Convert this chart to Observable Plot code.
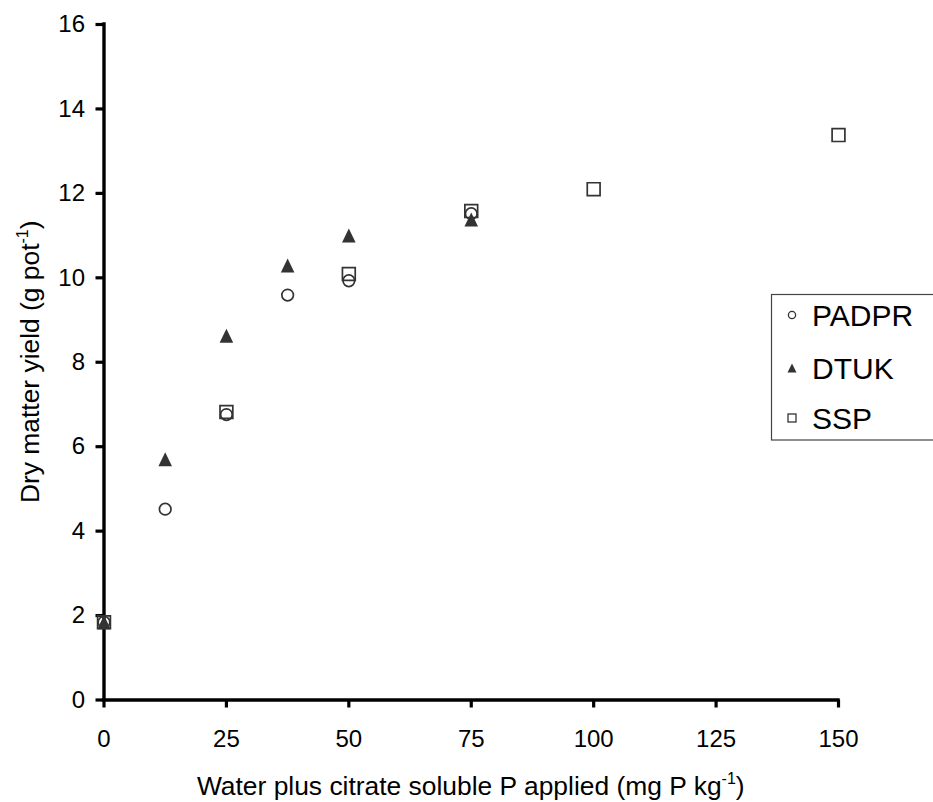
<!DOCTYPE html>
<html>
<head>
<meta charset="utf-8">
<script src="https://cdn.jsdelivr.net/npm/d3@7"></script>
<script src="https://cdn.jsdelivr.net/npm/@observablehq/plot@0.6"></script>
<style>
  html, body { margin: 0; padding: 0; background: #fff; }
  #chart svg { display: block; font-family: "Liberation Sans", Arial, sans-serif; }
</style>
</head>
<body>
<div id="chart"></div>
<script>
// ---- data ----
const seriesNames = ["PADPR", "DTUK", "SSP"];
const padprX = [0, 12.5, 25, 37.5, 50, 75];
const padprY = [1.84, 4.52, 6.76, 9.59, 9.93, 11.52];
const dtukX = [0, 12.5, 25, 37.5, 50, 75];
const dtukY = [1.84, 5.70, 8.63, 10.29, 11.00, 11.38];
const sspX = [0, 25, 50, 75, 100, 150];
const sspY = [1.84, 6.82, 10.09, 11.58, 12.10, 13.38];
const xTicks = [0, 25, 50, 75, 100, 125, 150];
const yTicks = [0, 2, 4, 6, 8, 10, 12, 14, 16];

const toRows = (xs, ys, s) => xs.map((x, i) => ({x, y: ys[i], s}));
const padpr = toRows(padprX, padprY, seriesNames[0]);
const dtuk = toRows(dtukX, dtukY, seriesNames[1]);
const ssp = toRows(sspX, sspY, seriesNames[2]);

// custom symbols (bbox-centred like spreadsheet markers)
const sqSymbol = {draw(ctx, size) { const r = Math.sqrt(size / Math.PI); ctx.rect(-r, -r, 2 * r, 2 * r); }};
const triSymbol = {draw(ctx, size) { const r = Math.sqrt(size / Math.PI); const w = r * 0.97;
  ctx.moveTo(0, -r); ctx.lineTo(w, r); ctx.lineTo(-w, r); ctx.closePath(); }};

const ink = "#333";
const W = 933, H = 802;
const mL = 103.5, mR = 95, mT = 24, mB = 102.5;

const plot = Plot.plot({
  width: W, height: H,
  marginLeft: mL, marginRight: mR, marginTop: mT, marginBottom: mB,
  style: {fontFamily: '"Liberation Sans", Arial, sans-serif', background: "#fff"},
  x: {domain: [0, 150]},
  y: {domain: [0, 16]},
  marks: [
    Plot.axisX({ticks: xTicks, tickSize: 8, tickPadding: 22, strokeWidth: 3.2, stroke: "#000",
      fontSize: 24, fill: "#000", label: null, tickFormat: d => String(d)}),
    Plot.axisY({ticks: yTicks, tickSize: 8, tickPadding: 11, strokeWidth: 3.2, stroke: "#000",
      fontSize: 24, fill: "#000", label: null, tickFormat: d => String(d)}),
    Plot.ruleX([0], {y1: 0, y2: 16, stroke: "#000", strokeWidth: 3.4, strokeLinecap: "square"}),
    Plot.ruleY([0], {x1: 0, x2: 150, stroke: "#000", strokeWidth: 3.4, strokeLinecap: "square"}),
    Plot.dot(padpr, {x: "x", y: "y", symbol: "circle", r: 5.8, stroke: ink, strokeWidth: 1.7, fill: "none"}),
    Plot.dot(dtuk, {x: "x", y: "y", symbol: triSymbol, r: 7, stroke: "none", fill: ink}),
    Plot.dot(ssp, {x: "x", y: "y", symbol: sqSymbol, r: 6.4, stroke: ink, strokeWidth: 1.7, fill: "none"})
  ]
});

document.getElementById("chart").appendChild(plot);
const svg = d3.select(plot);

// axis titles with superscripts
const xt = svg.append("text")
  .attr("x", (mL + (W - mR)) / 2 + 0).attr("y", 795)
  .attr("text-anchor", "middle").attr("font-size", 26.4).attr("fill", "#000");
xt.append("tspan").text("Water plus citrate soluble P applied (mg P kg");
xt.append("tspan").text("-1").attr("font-size", 16).attr("dy", -11);
xt.append("tspan").text(")").attr("dy", 11);

const yt = svg.append("text")
  .attr("transform", `translate(39,${(mT + (H - mB)) / 2}) rotate(-90)`)
  .attr("text-anchor", "middle").attr("font-size", 26.4).attr("fill", "#000");
yt.append("tspan").text("Dry matter yield (g pot");
yt.append("tspan").text("-1").attr("font-size", 16).attr("dy", -11);
yt.append("tspan").text(")").attr("dy", 11);

// legend
const lg = svg.append("g").attr("text-anchor", "start");
lg.append("rect").attr("x", 771.5).attr("y", 294.5).attr("width", 200).attr("height", 145.5)
  .attr("fill", "#fff").attr("stroke", "#444").attr("stroke-width", 1.2);
const rowsY = [315, 368, 418];
const mx = 792;
lg.append("circle").attr("cx", mx).attr("cy", rowsY[0]).attr("r", 3.6)
  .attr("fill", "none").attr("stroke", ink).attr("stroke-width", 1.3);
lg.append("path").attr("d", `M${mx},${rowsY[1] - 4.5}L${mx + 4.5},${rowsY[1] + 4.5}L${mx - 4.5},${rowsY[1] + 4.5}Z`)
  .attr("fill", ink);
lg.append("rect").attr("x", mx - 4).attr("y", rowsY[2] - 4).attr("width", 8).attr("height", 8)
  .attr("fill", "none").attr("stroke", ink).attr("stroke-width", 1.3);
seriesNames.forEach((n, i) => {
  lg.append("text").attr("x", 812).attr("y", rowsY[i] + 10.7).attr("text-anchor", "start")
    .attr("font-size", 30).attr("fill", "#000").text(n);
});
</script>
</body>
</html>
